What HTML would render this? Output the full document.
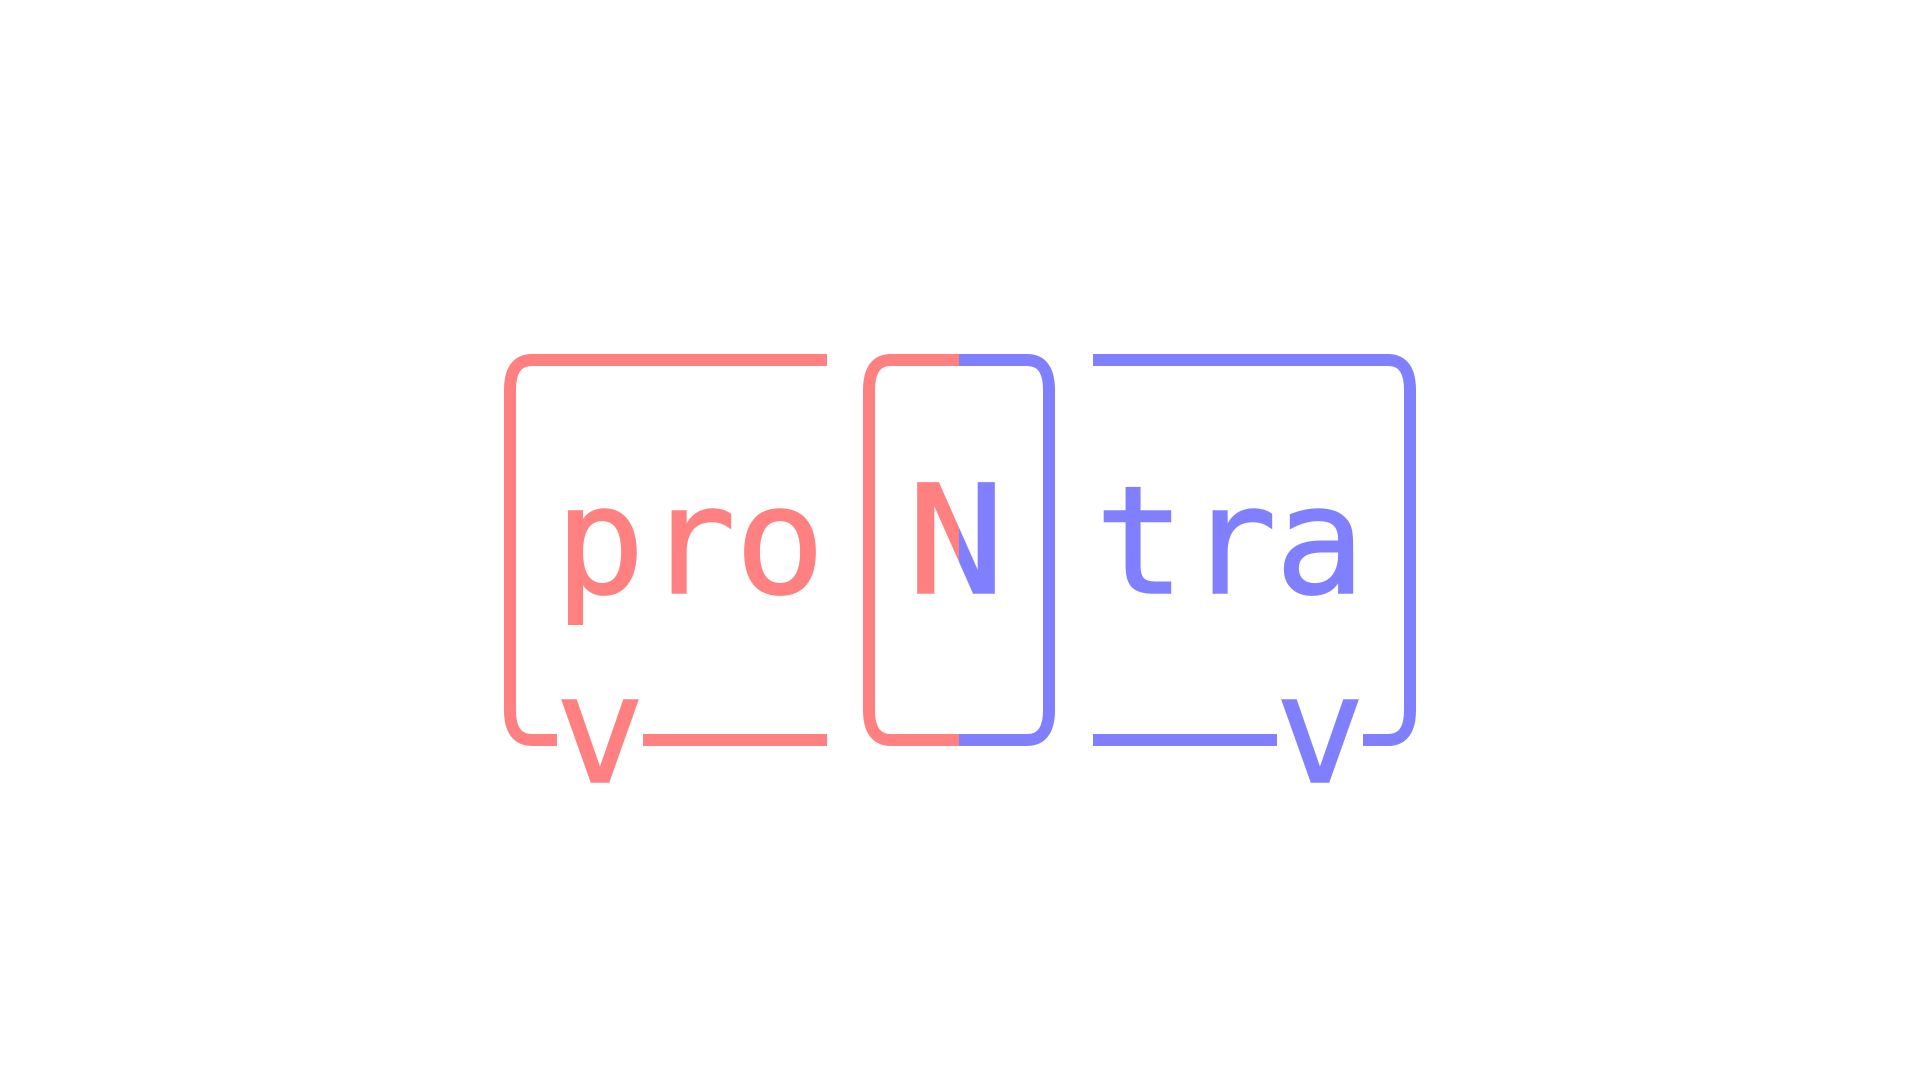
<!DOCTYPE html>
<html><head><style>html,body{margin:0;padding:0;background:#fff;}svg{display:block}</style></head>
<body>
<svg width="1920" height="1080" viewBox="0 0 1920 1080" xmlns="http://www.w3.org/2000/svg">
<defs>
<linearGradient id="g" gradientUnits="userSpaceOnUse" x1="900" y1="0" x2="1018" y2="0">
<stop offset="0.5" stop-color="#ff8080"/><stop offset="0.5" stop-color="#8080ff"/>
</linearGradient>
</defs>
<g fill="none" stroke-width="12" stroke-linejoin="round">
<path d="M827,360 H532 Q510,360 510,390 V710 Q510,740 532,740 H557" stroke="#ff8080"/>
<path d="M643,740 H827" stroke="#ff8080"/>
<path d="M959,360 H891 Q869,360 869,390 V710 Q869,740 891,740 H959" stroke="#ff8080"/>
<path d="M959,360 H1027 Q1049,360 1049,390 V710 Q1049,740 1027,740 H959" stroke="#8080ff"/>
<path d="M1093,360 H1388 Q1410,360 1410,390 V710 Q1410,740 1388,740 H1363" stroke="#8080ff"/>
<path d="M1093,740 H1277" stroke="#8080ff"/>
</g>
<g font-family="DejaVu Sans Mono, Liberation Mono, monospace" font-size="150" text-anchor="middle" stroke-width="1.5">
<text x="600" y="593" fill="#ff8080" stroke="#ff8080">p</text>
<text x="691" y="593" fill="#ff8080" stroke="#ff8080">r</text>
<text x="780" y="593" fill="#ff8080" stroke="#ff8080">o</text>
<text x="956" y="593" fill="url(#g)" stroke="url(#g)" font-size="151" transform="translate(956 593) scale(1.08 1) translate(-956 -593)">N</text>
<text x="1140" y="593" fill="#8080ff" stroke="#8080ff">t</text>
<text x="1232" y="593" fill="#8080ff" stroke="#8080ff">r</text>
<text x="1320" y="593" fill="#8080ff" stroke="#8080ff">a</text>
<text x="600" y="782" fill="#ff8080" stroke="#ff8080">v</text>
<text x="1320" y="782" fill="#8080ff" stroke="#8080ff">v</text>
</g>
</svg>
</body></html>
